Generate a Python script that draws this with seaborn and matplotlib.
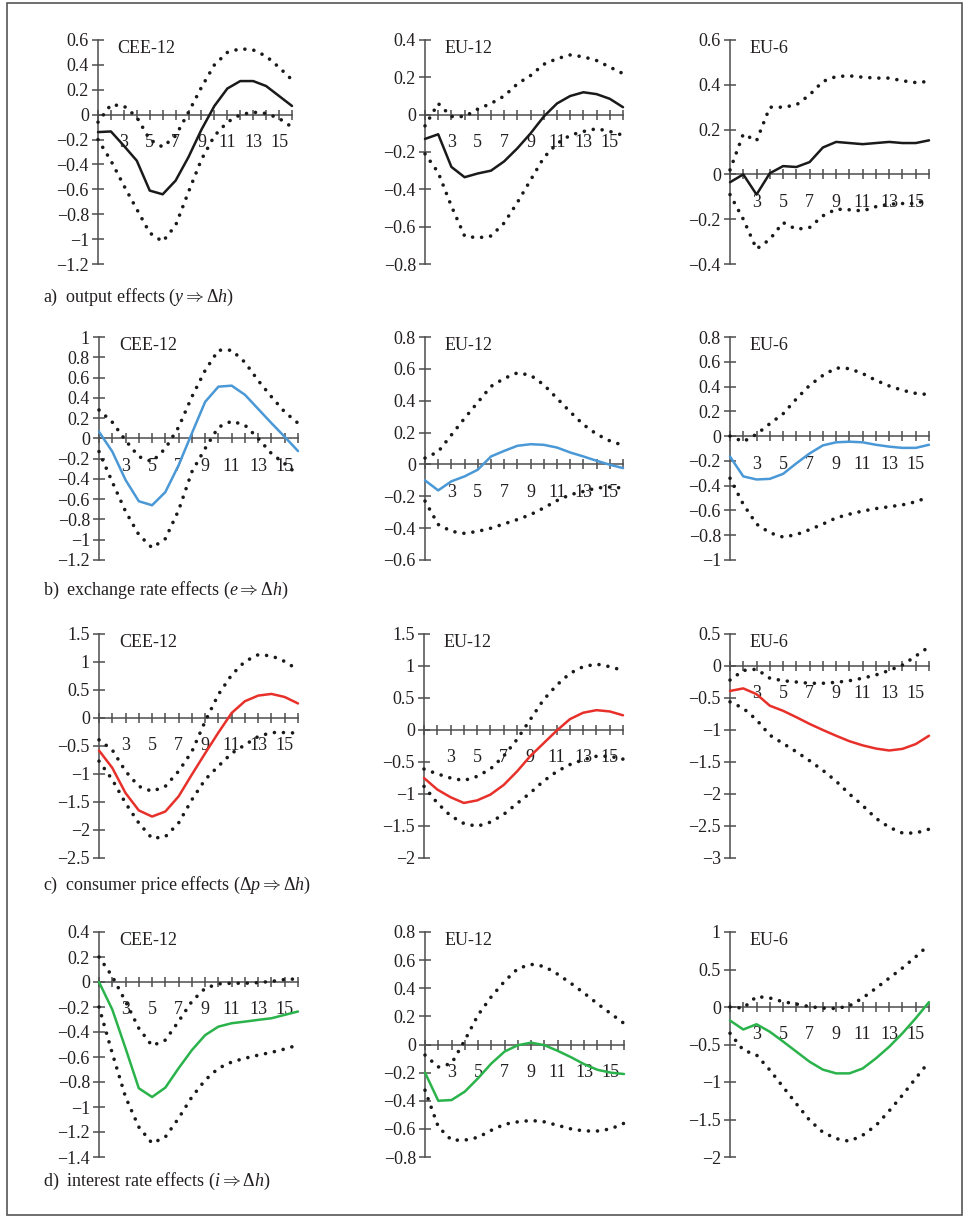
import numpy as np
import pandas as pd
import matplotlib
matplotlib.use("Agg")
import matplotlib.pyplot as plt
from matplotlib.patches import Rectangle
import seaborn as sns

# ---------------- data ----------------
horizon = list(range(1, 17))
x_tick_labels = ['', '', '3', '', '5', '', '7', '', '9', '', '11', '', '13', '', '15', '']
regions = ['CEE-12', 'EU-12', 'EU-6']
captions = [
    r"a)  output effects ($y \Rightarrow \Delta h$)",
    r"b)  exchange rate effects ($e \Rightarrow \Delta h$)",
    r"c)  consumer price effects ($\Delta p \Rightarrow \Delta h$)",
    r"d)  interest rate effects ($i \Rightarrow \Delta h$)",
]
line_colors = ['#1a1a1a', '#4a98d6', '#e8302a', '#2ab34b']

# a) output effects
out_cee_irf = [-0.14, -0.135, -0.25, -0.37, -0.61, -0.64, -0.53, -0.34, -0.12, 0.07, 0.21, 0.27, 0.27, 0.23, 0.15, 0.07]
out_cee_hi = [-0.06, 0.08, 0.07, -0.02, -0.2, -0.26, -0.17, 0.02, 0.22, 0.40, 0.50, 0.53, 0.52, 0.47, 0.38, 0.28]
out_cee_lo = [-0.2, -0.37, -0.57, -0.76, -0.95, -1.02, -0.89, -0.62, -0.36, -0.17, -0.06, 0.0, 0.02, 0.01, -0.03, -0.1]
out_eu12_irf = [-0.13, -0.105, -0.28, -0.335, -0.315, -0.30, -0.25, -0.18, -0.10, -0.01, 0.06, 0.10, 0.12, 0.11, 0.085, 0.04]
out_eu12_hi = [-0.06, 0.06, -0.01, -0.01, 0.03, 0.06, 0.10, 0.165, 0.21, 0.27, 0.30, 0.32, 0.31, 0.29, 0.255, 0.22]
out_eu12_lo = [-0.21, -0.31, -0.49, -0.65, -0.66, -0.65, -0.58, -0.47, -0.35, -0.23, -0.155, -0.11, -0.09, -0.075, -0.09, -0.11]
out_eu6_irf = [-0.035, 0.0, -0.09, 0.005, 0.037, 0.033, 0.055, 0.12, 0.145, 0.14, 0.135, 0.14, 0.145, 0.14, 0.14, 0.152]
out_eu6_hi = [0.02, 0.18, 0.15, 0.30, 0.30, 0.31, 0.355, 0.415, 0.437, 0.44, 0.434, 0.43, 0.43, 0.418, 0.41, 0.415]
out_eu6_lo = [-0.09, -0.20, -0.333, -0.29, -0.215, -0.245, -0.237, -0.185, -0.155, -0.158, -0.163, -0.144, -0.133, -0.13, -0.13, -0.11]

# b) exchange rate effects
exr_cee_irf = [0.065, -0.13, -0.41, -0.62, -0.66, -0.53, -0.265, 0.05, 0.36, 0.51, 0.52, 0.43, 0.29, 0.15, 0.015, -0.125]
exr_cee_hi = [0.28, 0.16, -0.02, -0.18, -0.23, -0.10, 0.11, 0.41, 0.67, 0.87, 0.87, 0.75, 0.57, 0.41, 0.26, 0.15]
exr_cee_lo = [-0.13, -0.43, -0.72, -0.95, -1.08, -0.99, -0.71, -0.33, -0.1, 0.11, 0.17, 0.13, 0.0, -0.15, -0.25, -0.36]
exr_eu12_irf = [-0.10, -0.163, -0.106, -0.075, -0.033, 0.05, 0.085, 0.117, 0.127, 0.123, 0.106, 0.075, 0.05, 0.023, -0.002, -0.023]
exr_eu12_hi = [0.04, 0.08, 0.185, 0.29, 0.39, 0.49, 0.54, 0.575, 0.56, 0.50, 0.415, 0.33, 0.25, 0.19, 0.148, 0.12]
exr_eu12_lo = [-0.23, -0.377, -0.42, -0.433, -0.42, -0.40, -0.373, -0.346, -0.315, -0.273, -0.227, -0.19, -0.17, -0.148, -0.142, -0.148]
exr_eu6_irf = [-0.165, -0.325, -0.35, -0.345, -0.305, -0.22, -0.14, -0.075, -0.05, -0.045, -0.05, -0.07, -0.085, -0.095, -0.095, -0.07]
exr_eu6_hi = [0.0, -0.045, 0.015, 0.10, 0.18, 0.30, 0.41, 0.49, 0.55, 0.545, 0.505, 0.45, 0.405, 0.37, 0.345, 0.335]
exr_eu6_lo = [-0.34, -0.55, -0.71, -0.78, -0.815, -0.795, -0.755, -0.71, -0.66, -0.63, -0.605, -0.585, -0.57, -0.555, -0.53, -0.49]

# c) consumer price effects
cpi_cee_irf = [-0.58, -0.89, -1.34, -1.65, -1.76, -1.67, -1.40, -1.01, -0.63, -0.26, 0.09, 0.30, 0.40, 0.43, 0.375, 0.26]
cpi_cee_hi = [-0.39, -0.57, -0.95, -1.22, -1.31, -1.22, -0.95, -0.60, -0.06, 0.42, 0.77, 1.01, 1.13, 1.11, 1.01, 0.86]
cpi_cee_lo = [-0.77, -1.10, -1.52, -1.875, -2.15, -2.12, -1.875, -1.46, -1.10, -0.86, -0.63, -0.48, -0.33, -0.26, -0.26, -0.27]
cpi_eu12_irf = [-0.75, -0.93, -1.05, -1.14, -1.10, -1.01, -0.86, -0.65, -0.41, -0.21, -0.01, 0.17, 0.27, 0.31, 0.29, 0.23]
cpi_eu12_hi = [-0.61, -0.685, -0.75, -0.79, -0.725, -0.61, -0.41, -0.15, 0.16, 0.47, 0.70, 0.885, 0.99, 1.03, 0.99, 0.93]
cpi_eu12_lo = [-0.88, -1.14, -1.34, -1.46, -1.505, -1.44, -1.32, -1.15, -0.985, -0.80, -0.65, -0.54, -0.465, -0.41, -0.41, -0.455]
cpi_eu6_irf = [-0.39, -0.35, -0.44, -0.62, -0.70, -0.80, -0.905, -1.0, -1.09, -1.175, -1.24, -1.29, -1.32, -1.295, -1.22, -1.09]
cpi_eu6_hi = [-0.22, -0.07, -0.05, -0.19, -0.23, -0.25, -0.27, -0.27, -0.255, -0.23, -0.19, -0.14, -0.07, 0.015, 0.155, 0.30]
cpi_eu6_lo = [-0.56, -0.66, -0.84, -1.08, -1.21, -1.34, -1.48, -1.63, -1.80, -2.0, -2.18, -2.38, -2.52, -2.61, -2.61, -2.55]

# d) interest rate effects
int_cee_irf = [0.0, -0.22, -0.53, -0.85, -0.92, -0.845, -0.69, -0.545, -0.425, -0.357, -0.33, -0.317, -0.303, -0.29, -0.263, -0.236]
int_cee_hi = [0.2, 0.045, -0.155, -0.37, -0.51, -0.465, -0.315, -0.155, -0.05, -0.015, -0.01, -0.01, -0.005, 0.005, 0.02, 0.025]
int_cee_lo = [-0.2, -0.57, -0.92, -1.16, -1.29, -1.24, -1.09, -0.92, -0.785, -0.69, -0.64, -0.61, -0.585, -0.563, -0.536, -0.504]
int_eu12_irf = [-0.20, -0.40, -0.395, -0.335, -0.24, -0.135, -0.05, -0.005, 0.013, -0.005, -0.045, -0.09, -0.14, -0.18, -0.20, -0.21]
int_eu12_hi = [-0.075, -0.16, -0.135, 0.03, 0.21, 0.34, 0.45, 0.54, 0.57, 0.555, 0.50, 0.435, 0.365, 0.29, 0.22, 0.15]
int_eu12_lo = [-0.325, -0.585, -0.68, -0.68, -0.66, -0.61, -0.567, -0.55, -0.54, -0.55, -0.575, -0.60, -0.615, -0.615, -0.60, -0.56]
int_eu6_irf = [-0.18, -0.30, -0.23, -0.33, -0.46, -0.595, -0.73, -0.835, -0.885, -0.885, -0.82, -0.685, -0.53, -0.35, -0.15, 0.065]
int_eu6_hi = [0.0, -0.015, 0.14, 0.12, 0.07, 0.04, 0.005, -0.015, -0.02, 0.015, 0.12, 0.25, 0.385, 0.52, 0.67, 0.83]
int_eu6_lo = [-0.35, -0.575, -0.64, -0.84, -1.065, -1.29, -1.51, -1.67, -1.755, -1.79, -1.71, -1.58, -1.385, -1.175, -0.95, -0.73]

# y tick values per panel
yt_out_cee = [-1.2, -1.0, -0.8, -0.6, -0.4, -0.2, 0.0, 0.2, 0.4, 0.6]
yt_out_eu12 = [-0.8, -0.6, -0.4, -0.2, 0.0, 0.2, 0.4]
yt_out_eu6 = [-0.4, -0.2, 0.0, 0.2, 0.4, 0.6]
yt_exr_cee = [-1.2, -1.0, -0.8, -0.6, -0.4, -0.2, 0.0, 0.2, 0.4, 0.6, 0.8, 1.0]
yt_exr_eu12 = [-0.6, -0.4, -0.2, 0.0, 0.2, 0.4, 0.6, 0.8]
yt_exr_eu6 = [-1.0, -0.8, -0.6, -0.4, -0.2, 0.0, 0.2, 0.4, 0.6, 0.8]
yt_cpi_cee = [-2.5, -2.0, -1.5, -1.0, -0.5, 0.0, 0.5, 1.0, 1.5]
yt_cpi_eu12 = [-2.0, -1.5, -1.0, -0.5, 0.0, 0.5, 1.0, 1.5]
yt_cpi_eu6 = [-3.0, -2.5, -2.0, -1.5, -1.0, -0.5, 0.0, 0.5]
yt_int_cee = [-1.4, -1.2, -1.0, -0.8, -0.6, -0.4, -0.2, 0.0, 0.2, 0.4]
yt_int_eu12 = [-0.8, -0.6, -0.4, -0.2, 0.0, 0.2, 0.4, 0.6, 0.8]
yt_int_eu6 = [-2.0, -1.5, -1.0, -0.5, 0.0, 0.5, 1.0]

panels = [
    [(out_cee_irf, out_cee_lo, out_cee_hi, yt_out_cee),
     (out_eu12_irf, out_eu12_lo, out_eu12_hi, yt_out_eu12),
     (out_eu6_irf, out_eu6_lo, out_eu6_hi, yt_out_eu6)],
    [(exr_cee_irf, exr_cee_lo, exr_cee_hi, yt_exr_cee),
     (exr_eu12_irf, exr_eu12_lo, exr_eu12_hi, yt_exr_eu12),
     (exr_eu6_irf, exr_eu6_lo, exr_eu6_hi, yt_exr_eu6)],
    [(cpi_cee_irf, cpi_cee_lo, cpi_cee_hi, yt_cpi_cee),
     (cpi_eu12_irf, cpi_eu12_lo, cpi_eu12_hi, yt_cpi_eu12),
     (cpi_eu6_irf, cpi_eu6_lo, cpi_eu6_hi, yt_cpi_eu6)],
    [(int_cee_irf, int_cee_lo, int_cee_hi, yt_int_cee),
     (int_eu12_irf, int_eu12_lo, int_eu12_hi, yt_int_eu12),
     (int_eu6_irf, int_eu6_lo, int_eu6_hi, yt_int_eu6)],
]

# ---------------- style ----------------
sns.set_theme(style="white")
plt.rcParams['font.family'] = ['Liberation Serif', 'DejaVu Serif']
plt.rcParams['mathtext.fontset'] = 'custom'
plt.rcParams['mathtext.rm'] = 'Liberation Serif'
plt.rcParams['mathtext.it'] = 'Liberation Serif:italic'
plt.rcParams['mathtext.bf'] = 'Liberation Serif:bold'
plt.rcParams['axes.unicode_minus'] = True

TXT = '#231f20'
AX = '#4d4d4d'
W, H = 965, 1218

fig = plt.figure(figsize=(W / 100, H / 100), dpi=100)
fig.patch.set_facecolor('white')

row_px = [(40, 264), (337, 560), (634, 858), (932, 1157)]
col_px = [[(98, 292), (425, 623), (730, 929)],
          [(99, 298), (425, 623), (730, 929)],
          [(99, 298), (424, 623), (730, 929)],
          [(99, 298), (425, 624), (730, 929)]]
caption_base = [302, 595, 890, 1186]


def fmt(v):
    s = f"{round(v, 3):g}"
    if s in ('-0', '0.0', '-0.0'):
        s = '0'
    return s.replace('-', '\u2212')


dot_style = (0, (0.01, 2.5))

for r in range(4):
    top, bot = row_px[r]
    for c in range(3):
        left, right = col_px[r][c]
        ax = fig.add_axes([left / W, 1 - bot / H, (right - left) / W, (bot - top) / H])
        irf, lo, hi, yt = panels[r][c]
        df = pd.DataFrame({'h': horizon, 'irf': irf, 'lo': lo, 'hi': hi})
        for band in ['hi', 'lo']:
            sns.lineplot(data=df, x='h', y=band, ax=ax, color='#1a1a1a', lw=2.6,
                         linestyle=dot_style, dash_capstyle='round',
                         errorbar=None, clip_on=False, zorder=3)
        sns.lineplot(data=df, x='h', y='irf', ax=ax, color=line_colors[r],
                     lw=1.8, errorbar=None, clip_on=False, zorder=4)

        ax.set_xlim(1, 16)
        ax.set_ylim(yt[0], yt[-1])
        ax.set_facecolor('none')
        for s in ['top', 'right']:
            ax.spines[s].set_visible(False)
        ax.spines['left'].set_position(('data', 1))
        ax.spines['bottom'].set_position(('data', 0))
        for s in ['left', 'bottom']:
            ax.spines[s].set_color(AX)
            ax.spines[s].set_linewidth(1.1)
            ax.spines[s].set_zorder(2)
        ax.set_xticks(horizon)
        ax.set_xticklabels(x_tick_labels)
        ax.set_yticks(yt)
        ax.set_yticklabels([fmt(v) for v in yt])
        ax.tick_params(axis='x', bottom=True, top=False, direction='inout',
                       length=7, width=1.1, color=AX, pad=10.5, labelsize=13,
                       labelcolor=TXT)
        ax.tick_params(axis='y', left=True, right=False, direction='inout',
                       length=9, width=1.1, color=AX, pad=2, labelsize=13,
                       labelcolor=TXT)
        ax.set_xlabel('')
        ax.set_ylabel('')
        ax.grid(False)
        ax.text(0.1, 0.963, regions[c], transform=ax.transAxes, ha='left',
                va='center', fontsize=13, color=TXT)

    fig.text(43 / W, 1 - caption_base[r] / H, captions[r], ha='left',
             va='baseline', fontsize=13, color=TXT)

# outer frame
fig.add_artist(Rectangle((7 / W, 3 / H), (962 - 7) / W, (1215 - 3) / H,
                         transform=fig.transFigure, fill=False,
                         edgecolor='#555555', linewidth=1.2))

fig.savefig('out.png', dpi=100, facecolor='white')
